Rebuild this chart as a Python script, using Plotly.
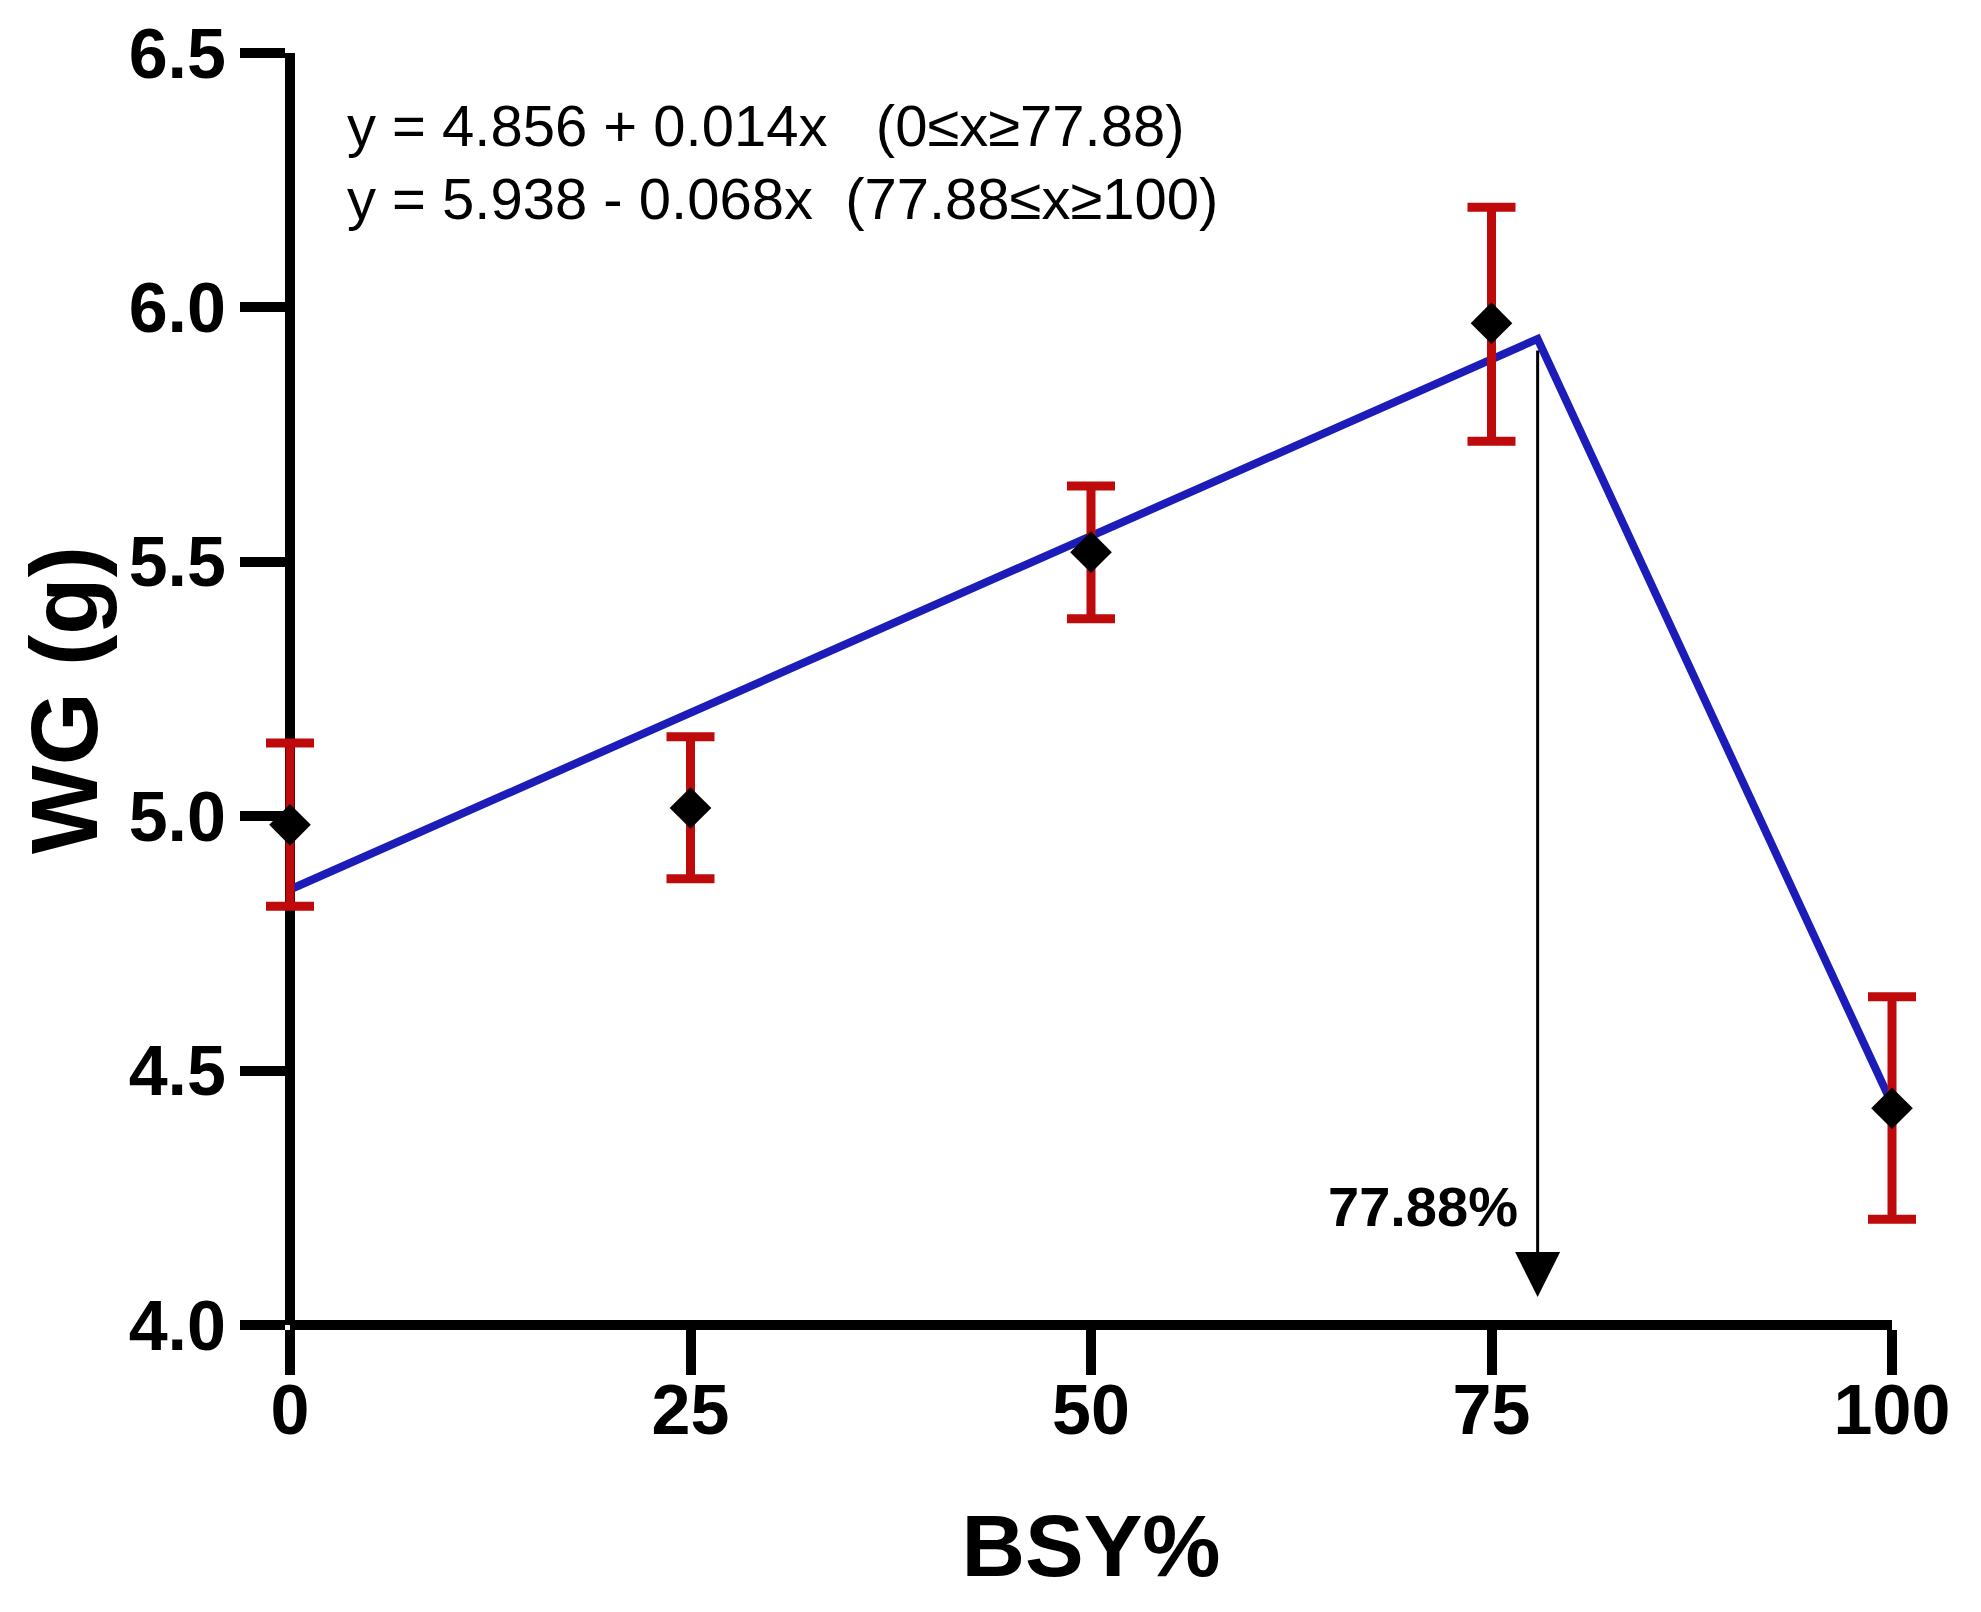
import plotly.graph_objects as go

# Data
bsy = [0, 25, 50, 75, 100]
wg = [4.983, 5.016, 5.519, 5.969, 4.426]
err_plus = [0.161, 0.140, 0.130, 0.228, 0.219]
err_minus = [0.160, 0.139, 0.131, 0.232, 0.218]

# Broken-line fit (break point and fitted values)
fit_x = [0, 77.88, 100]
fit_y = [4.856, 5.938, 4.434]
break_x = 77.88
break_y = 5.938
arrow_tip_y = 4.055

eq_lines = [
    "y = 4.856 + 0.014x\u00a0\u00a0\u00a0(0\u2264x\u226577.88)",
    "y = 5.938 - 0.068x\u00a0\u00a0(77.88\u2264x\u2265100)",
]
eq_y = [6.357, 6.215]

x_ticks = [0, 25, 50, 75, 100]
y_ticks = [4.0, 4.5, 5.0, 5.5, 6.0, 6.5]
y_ticklabels = ["4.0", "4.5", "5.0", "5.5", "6.0", "6.5"]

FONT = "Liberation Sans, Arial, Helvetica, sans-serif"
RED = "#BE0A0A"
BLUE = "#1C1CB8"

# Figure geometry (page body has an 8px default margin)
W, H = 1965, 1596
L, R, T, B = 282, 81, 45, 279     # plot area of the visible axes
PAD = 40                          # extra room so end error bars are not clipped
plot_w = W - (L - PAD) - (R - PAD)
plot_h = H - T - B
dom_pad = PAD / plot_w
x_min, x_max = 0, 100
units_per_px = (x_max - x_min) / (plot_w - 2 * PAD)
x2_range = [x_min - PAD * units_per_px, x_max + PAD * units_per_px]


def paper_x(px):
    return (px - (L - PAD)) / plot_w


def paper_y(py):
    return 1 - (py - T) / plot_h


fig = go.Figure()

fig.add_trace(go.Scatter(
    x=fit_x, y=fit_y, mode="lines", xaxis="x2", yaxis="y",
    line=dict(color=BLUE, width=8),
    cliponaxis=False, showlegend=False, hoverinfo="skip",
))

fig.add_trace(go.Scatter(
    x=bsy, y=wg, mode="markers", xaxis="x2", yaxis="y",
    marker=dict(symbol="diamond", size=32, color="black"),
    error_y=dict(type="data", symmetric=False, array=err_plus, arrayminus=err_minus,
                 color=RED, thickness=9, width=24),
    cliponaxis=False, showlegend=False,
))

annotations = []
for txt, yy in zip(eq_lines, eq_y):
    annotations.append(dict(
        x=3.43, y=yy, xref="x", yref="y", text=txt, showarrow=False,
        xanchor="left", yanchor="middle",
        font=dict(family=FONT, size=58, color="black"),
    ))

annotations.append(dict(
    x=break_x, y=arrow_tip_y, ax=break_x, ay=break_y - 0.02,
    xref="x", yref="y", axref="x", ayref="y",
    text="", showarrow=True, arrowhead=2, arrowsize=3.0, arrowwidth=3,
    arrowcolor="black", standoff=0, startstandoff=0,
))

annotations.append(dict(
    x=76.8, y=4.232, xref="x", yref="y", text="77.88%", showarrow=False,
    xanchor="right", yanchor="middle",
    font=dict(family=FONT, size=56, color="black", weight="bold"),
))

# y-axis title as rotated text
annotations.append(dict(
    x=paper_x(56), y=paper_y(692), xref="paper", yref="paper",
    text="WG (g)", textangle=-90, showarrow=False,
    xanchor="center", yanchor="middle", borderpad=0,
    font=dict(family=FONT, size=94, color="black", weight="bold"),
))

fig.update_layout(
    width=W, height=H,
    margin=dict(l=L - PAD, r=R - PAD, t=T, b=B, autoexpand=False),
    paper_bgcolor="white", plot_bgcolor="rgba(0,0,0,0)",
    annotations=annotations,
    showlegend=False,
    xaxis=dict(
        domain=[dom_pad, 1 - dom_pad], anchor="free", position=0,
        range=[x_min, x_max], tickvals=x_ticks, ticktext=[str(v) for v in x_ticks],
        showline=True, linecolor="black", linewidth=10,
        ticks="outside", ticklen=45, tickwidth=10, tickcolor="black",
        showgrid=False, zeroline=False, ticklabelstandoff=-25,
        tickfont=dict(family=FONT, size=70, color="black", weight="bold"),
        title=dict(text="BSY%", font=dict(family=FONT, size=88, color="black", weight="bold"),
                   standoff=65),
        automargin=False,
    ),
    xaxis2=dict(
        domain=[0, 1], anchor="y", range=x2_range, visible=False,
        showgrid=False, zeroline=False,
    ),
    yaxis=dict(
        anchor="free", position=dom_pad,
        range=[4.0, 6.5], tickvals=y_ticks, ticktext=y_ticklabels,
        showline=True, linecolor="black", linewidth=10,
        ticks="outside", ticklen=45, tickwidth=10, tickcolor="black",
        showgrid=False, zeroline=False,
        tickfont=dict(family=FONT, size=70, color="black", weight="bold"),
        automargin=False,
    ),
)

fig.write_html("out.html")
